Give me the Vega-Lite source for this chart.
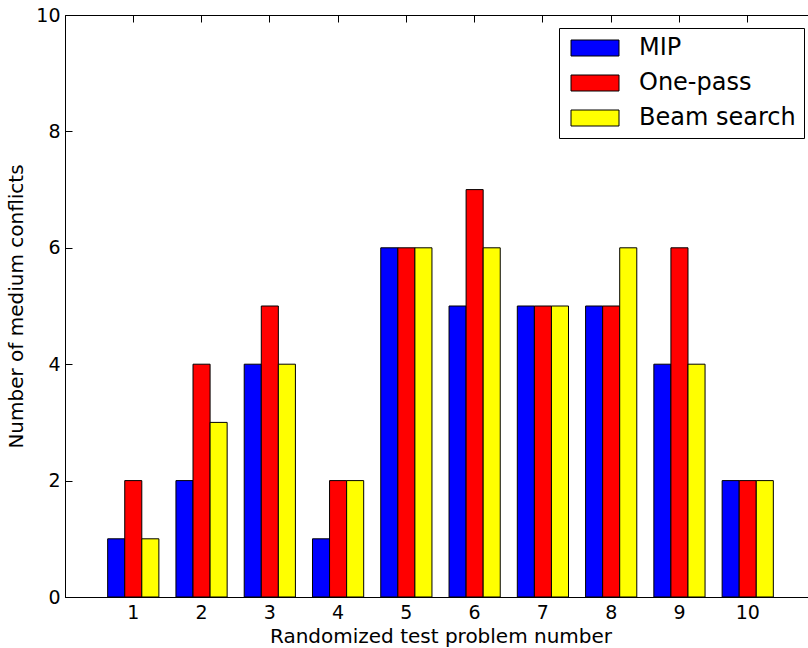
{
  "$schema": "https://vega.github.io/schema/vega-lite/v6.json",
  "width": 751,
  "height": 582,
  "autosize": "none",
  "padding": {"left": 65, "top": 15, "right": 0, "bottom": 51},
  "background": "white",
  "config": {
    "font": "DejaVu Sans",
    "view": {"stroke": "black", "strokeWidth": 1},
    "axis": {
      "domainColor": "black",
      "domainWidth": 1,
      "tickColor": "black",
      "tickWidth": 1,
      "tickSize": -7,
      "grid": false,
      "labelFont": "DejaVu Sans",
      "labelFontSize": 19,
      "labelColor": "black",
      "titleFont": "DejaVu Sans",
      "titleFontSize": 20,
      "titleFontWeight": "normal",
      "titleColor": "black"
    }
  },
  "data": {
    "values": [
      {"problem": 1, "method": "MIP", "value": 1},
      {"problem": 1, "method": "One-pass", "value": 2},
      {"problem": 1, "method": "Beam search", "value": 1},
      {"problem": 2, "method": "MIP", "value": 2},
      {"problem": 2, "method": "One-pass", "value": 4},
      {"problem": 2, "method": "Beam search", "value": 3},
      {"problem": 3, "method": "MIP", "value": 4},
      {"problem": 3, "method": "One-pass", "value": 5},
      {"problem": 3, "method": "Beam search", "value": 4},
      {"problem": 4, "method": "MIP", "value": 1},
      {"problem": 4, "method": "One-pass", "value": 2},
      {"problem": 4, "method": "Beam search", "value": 2},
      {"problem": 5, "method": "MIP", "value": 6},
      {"problem": 5, "method": "One-pass", "value": 6},
      {"problem": 5, "method": "Beam search", "value": 6},
      {"problem": 6, "method": "MIP", "value": 5},
      {"problem": 6, "method": "One-pass", "value": 7},
      {"problem": 6, "method": "Beam search", "value": 6},
      {"problem": 7, "method": "MIP", "value": 5},
      {"problem": 7, "method": "One-pass", "value": 5},
      {"problem": 7, "method": "Beam search", "value": 5},
      {"problem": 8, "method": "MIP", "value": 5},
      {"problem": 8, "method": "One-pass", "value": 5},
      {"problem": 8, "method": "Beam search", "value": 6},
      {"problem": 9, "method": "MIP", "value": 4},
      {"problem": 9, "method": "One-pass", "value": 6},
      {"problem": 9, "method": "Beam search", "value": 4},
      {"problem": 10, "method": "MIP", "value": 2},
      {"problem": 10, "method": "One-pass", "value": 2},
      {"problem": 10, "method": "Beam search", "value": 2}
    ]
  },
  "layer": [
    {
      "mark": {"type": "bar", "stroke": "black", "strokeWidth": 1, "opacity": 1},
      "encoding": {
        "x": {
          "field": "problem",
          "type": "ordinal",
          "scale": {"paddingInner": 0.25, "paddingOuter": 0.625},
          "axis": {"orient": "bottom", "title": "Randomized test problem number", "labelAngle": 0, "labelPadding": 13, "titlePadding": 4}
        },
        "xOffset": {
          "field": "method",
          "sort": ["MIP", "One-pass", "Beam search"],
          "scale": {"paddingInner": 0, "paddingOuter": 0}
        },
        "y": {
          "field": "value",
          "type": "quantitative",
          "scale": {"domain": [0, 10], "nice": false},
          "axis": {"title": "Number of medium conflicts", "values": [0, 2, 4, 6, 8, 10], "labelPadding": 12, "titlePadding": 9}
        },
        "fill": {
          "field": "method",
          "type": "nominal",
          "sort": ["MIP", "One-pass", "Beam search"],
          "scale": {"domain": ["MIP", "One-pass", "Beam search"], "range": ["#0000ff", "#ff0000", "#ffff00"]},
          "legend": {
            "title": null,
            "orient": "none",
            "legendX": 494,
            "legendY": 13,
            "symbolType": "M-1,-1H5V1H-1Z",
            "symbolSize": 256,
            "symbolStrokeColor": "black",
            "symbolStrokeWidth": 1,
            "symbolOpacity": 1,
            "labelFont": "DejaVu Sans",
            "labelFontSize": 24,
            "labelColor": "black",
            "labelOffset": 48,
            "rowPadding": 11,
            "strokeColor": "black",
            "fillColor": "white",
            "padding": 8
          }
        }
      }
    },
    {
      "mark": {"type": "bar", "opacity": 0},
      "encoding": {
        "x": {
          "field": "problem",
          "type": "ordinal",
          "axis": {"orient": "top", "labels": false, "title": null, "domain": false}
        }
      }
    }
  ],
  "resolve": {"axis": {"x": "independent"}}
}
